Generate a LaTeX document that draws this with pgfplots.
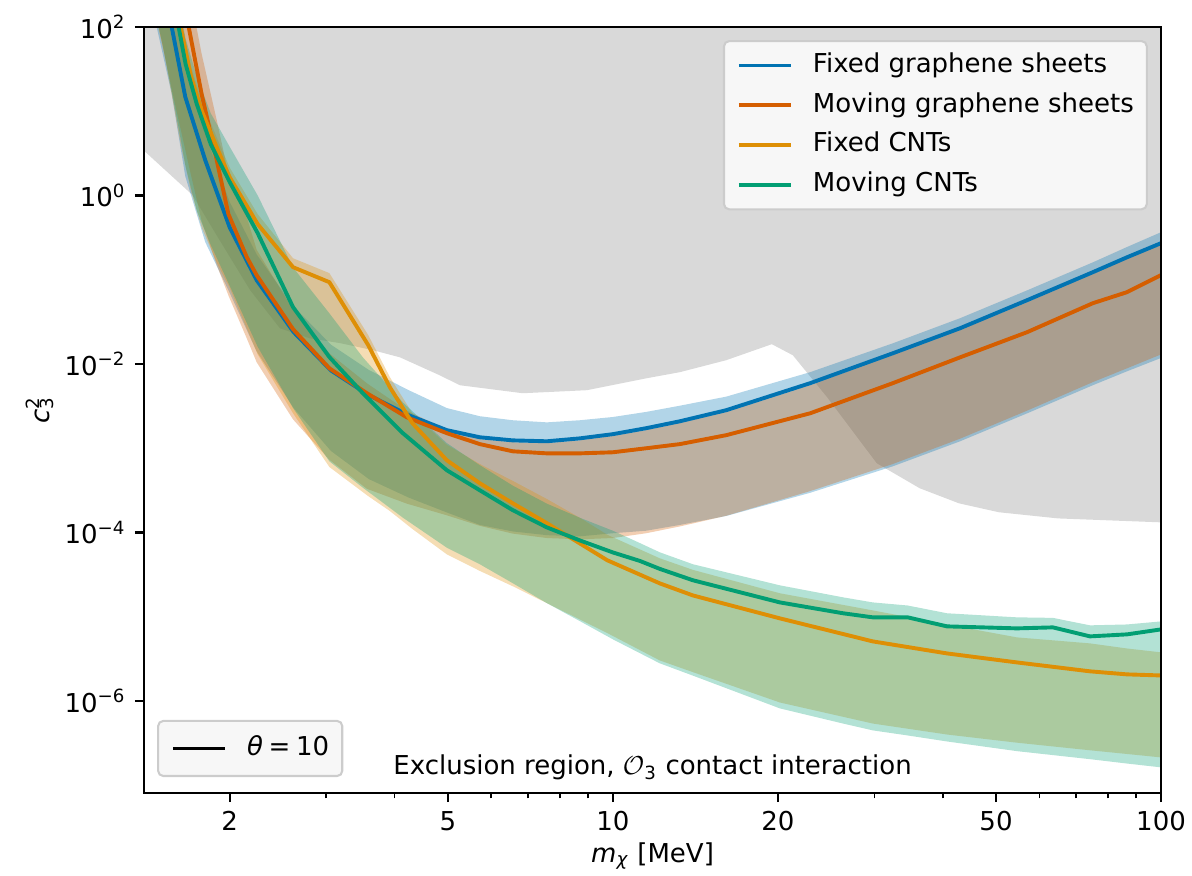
\documentclass[border=0pt]{standalone}
\usepackage{fontspec}
\setmainfont{DejaVu Sans}
\usepackage{pgfplots}
\pgfplotsset{compat=1.18}
\usepackage{pgfplotstable}
\usepgfplotslibrary{fillbetween}

\definecolor{cbblue}{HTML}{0173B2}
\definecolor{cbred}{HTML}{D55E00}
\definecolor{cborange}{HTML}{DE8F05}
\definecolor{cbgreen}{HTML}{029E73}

% excluded region: lower boundary (the region extends to the top of the plot)
\pgfplotstableread{
m y
1.396 3.40
1.712 1.01
1.918 0.295
2.18 0.0752
2.47 0.0266
2.80 0.0202
3.18 0.0177
3.65 0.0146
4.09 0.0120
4.83 7.36e-3
5.26 5.6e-3
6.85 4.5e-3
8.97 4.89e-3
11.53 6.78e-3
13.25 8.0e-3
16.1 0.0111
19.5 0.0172
21.3 0.0127
24.6 4.03e-3
30.3 6.64e-4
36.3 3.35e-4
42.8 2.22e-4
50.6 1.74e-4
64.9 1.47e-4
100 1.32e-4
}\excl

% m [MeV], lower band edge, central curve, upper band edge
\pgfplotstableread{
m lo mid hi
1.464 117 1000 2000
1.568 16 100 200
1.66 1.69 14.8 30
1.805 0.28 2.63 5.3
2.0 0.07 0.42 0.84
2.24 0.0141 0.099 0.2
2.617 3.0e-3 0.0239 0.048
3.06 9.3e-4 8.4e-3 0.017
3.59 4.3e-4 4.26e-3 8.5e-3
4.24 2.6e-4 2.47e-3 4.9e-3
4.98 1.73e-4 1.64e-3 3.0e-3
5.72 1.23e-4 1.35e-3 2.4e-3
6.57 1.03e-4 1.24e-3 2.15e-3
7.58 9.3e-5 1.21e-3 2.03e-3
8.70 9.0e-5 1.31e-3 2.15e-3
10 9.8e-5 1.47e-3 2.35e-3
11.5 1.05e-4 1.73e-3 2.7e-3
13.25 1.23e-4 2.09e-3 3.2e-3
16.1 1.57e-4 2.83e-3 4.1e-3
22.9 2.96e-4 5.92e-3 8.0e-3
32.4 6.1e-4 1.34e-2 1.76e-2
43 1.21e-3 2.66e-2 3.5e-2
57 2.6e-3 5.73e-2 7.5e-2
75.1 5.6e-3 0.123 0.161
86.7 8.2e-3 0.185 0.245
100 1.18e-2 0.272 0.367
}\fixedgraphene

\pgfplotstableread{
m lo mid hi
1.48 110 1e5 1e5
1.572 17 1000 3000
1.684 2.3 100 300
1.778 0.5 16 48
1.894 0.15 2.63 7.9
1.99 0.065 0.60 1.8
2.15 0.02 0.185 0.55
2.24 0.0105 0.1135 0.227
2.61 2.2e-3 0.0259 0.044
3.04 7.3e-4 8.9e-3 0.0134
3.56 3.3e-4 4.5e-3 5.9e-3
4.21 2.2e-4 2.33e-3 2.8e-3
4.98 1.6e-4 1.51e-3 1.66e-3
5.72 1.2e-4 1.12e-3 1.28e-3
6.57 9.7e-5 9.2e-4 1.18e-3
7.58 8.6e-5 8.7e-4 1.15e-3
8.70 8.3e-5 8.7e-4 1.24e-3
10 8.6e-5 8.96e-4 1.40e-3
11.5 9.8e-5 1.0e-3 1.64e-3
13.25 1.18e-4 1.12e-3 1.99e-3
16.1 1.58e-4 1.43e-3 2.69e-3
22.9 3.1e-4 2.6e-3 5.6e-3
32.4 6.5e-4 5.92e-3 1.27e-2
43 1.3e-3 1.2e-2 2.53e-2
57 2.8e-3 2.39e-2 5.4e-2
75.1 6.1e-3 5.27e-2 0.117
86.7 8.9e-3 7.13e-2 0.176
100 1.3e-2 0.1135 0.258
}\movinggraphene

\pgfplotstableread{
m lo mid hi
1.48 102 1e5 1e5
1.52 48 1000 1300
1.628 4.1 100 130
1.70 1.13 26 34
1.78 0.41 10 13
1.894 0.16 3.76 4.9
2.0 0.08 1.65 2.15
2.25 0.013 0.457 0.6
2.61 2.6e-3 0.141 0.18
3.04 6.0e-4 0.0936 0.12
3.58 2.7e-4 0.0167 0.022
3.92 1.8e-4 5.3e-3 7.0e-3
4.31 1.1e-4 1.98e-3 2.6e-3
4.98 5.5e-5 7.2e-4 1.1e-3
5.72 3.5e-5 3.84e-4 6.5e-4
6.57 2.3e-5 2.22e-4 4.1e-4
7.58 1.45e-5 1.29e-4 2.5e-4
8.70 9.3e-6 7.44e-5 1.5e-4
9.77 6.4e-6 4.68e-5 9.4e-5
12.18 3.03e-6 2.49e-5 4.94e-5
14.0 2.2e-6 1.79e-5 3.6e-5
20.17 9.6e-7 9.57e-6 1.9e-5
29.8 5.4e-7 5.10e-6 1.19e-5
40.7 4.0e-7 3.67e-6 8.1e-6
54.6 3.2e-7 2.87e-6 5.69e-6
74.2 2.6e-7 2.25e-6 4.83e-6
86.7 2.35e-7 2.07e-6 4.2e-6
100 2.14e-7 2.01e-6 3.78e-6
}\fixedcnt

\pgfplotstableread{
m lo mid hi
1.48 110 1e5 1e5
1.51 61 1000 2000
1.614 6.4 100 200
1.662 2.2 36.4 73
1.742 0.66 12.2 26
1.847 0.26 4.08 9.5
2.0 0.085 1.45 3.8
2.25 0.016 0.357 1.0
2.61 3.0e-3 0.0473 0.14
3.04 7.0e-4 0.0121 0.04
3.50 3.4e-4 4.5e-3 0.012
4.14 1.5e-4 1.51e-3 3.5e-3
4.98 6.6e-5 5.48e-4 1.15e-3
5.72 4.2e-5 3.17e-4 6.3e-4
6.57 2.5e-5 1.84e-4 3.6e-4
7.58 1.45e-5 1.15e-4 2.2e-4
8.70 8.9e-6 8.07e-5 1.5e-4
10 5.4e-6 5.8e-5 1.05e-4
11.2 3.7e-6 4.6e-5 7.5e-5
12.18 2.8e-6 3.7e-5 5.82e-5
14.0 2.0e-6 2.71e-5 4.2e-5
20.17 8.17e-7 1.48e-5 2.36e-5
26.3 5.4e-7 1.10e-5 1.7e-5
29.8 4.48e-7 9.84e-6 1.48e-5
34.5 3.9e-7 9.84e-6 1.36e-5
40.7 3.31e-7 7.69e-6 1.10e-5
54.6 2.54e-7 7.28e-6 9.84e-6
63.5 2.28e-7 7.48e-6 9.7e-6
74.2 2.04e-7 5.85e-6 7.91e-6
86.7 1.81e-7 6.18e-6 8.1e-6
100 1.63e-7 7.08e-6 8.81e-6
}\movingcnt

\pgfplotsset{
  lineleg/.style={legend image code/.code={\path (0pt,0pt); \draw[##1] (2pt,0pt) -- (22pt,0pt);}},
  mplframe/.style={
    at={(0pt,0pt)}, anchor=south west,
    width=391.1pt, height=294.6pt, scale only axis,
  },
  mpllegend/.style={
    legend cell align=left,
    legend style={fill=black!3, draw=black!20, rounded corners=2pt,
      inner sep=3pt, row sep=2.5pt, line width=0.8pt,
      nodes={inner xsep=2pt, inner ysep=1.5pt, text height=7.5pt, text depth=2.3pt},
      /tikz/every odd column/.append style={column sep=5.7pt}},
  },
}

\begin{document}
\begin{tikzpicture}
\begin{axis}[
  mplframe, mpllegend,
  xmode=log, ymode=log,
  xmin=1.396, xmax=100, ymin=8.07e-8, ymax=100,
  axis on top,
  axis line style={line width=0.8pt},
  tick pos=left, tick align=outside,
  major tick length=3.5pt, minor tick length=2pt,
  every major tick/.append style={line width=0.8pt, black},
  every minor tick/.append style={line width=0.6pt, black},
  xtick={2,5,10,20,50,100},
  xticklabels={2,5,10,20,50,100},
  minor xtick={3,4,6,7,8,9,30,40,60,70,80,90},
  ytick={1e-6,1e-4,1e-2,1,100},
  yticklabels={10\textsuperscript{−6},10\textsuperscript{−4},10\textsuperscript{−2},10\textsuperscript{0},10\textsuperscript{2}},
  yminorticks=false,
  xlabel={\textit{m}\textsubscript{\textit{χ}} [MeV]},
  ylabel={\textit{c}\rlap{\textsuperscript{2}}\textsubscript{3}},
  xlabel style={at={(axis description cs:0.5,0)}, anchor=base, yshift=-26.5pt},
  ylabel style={at={(axis description cs:-0.1023,0.5)}, anchor=center},
  legend style={at={(0.987,0.983)}, anchor=north east},
]
% excluded region
\addplot[name path=exlo, draw=none, forget plot] table[x=m, y=y] {\excl};
\addplot[name path=exhi, draw=none, forget plot] coordinates {(1.396,1e3) (100,1e3)};
\addplot[fill=black!50, fill opacity=0.3, draw=none, forget plot] fill between[of=exlo and exhi];

% uncertainty bands
\addplot[name path=a1, draw=none, forget plot] table[x=m, y=lo] {\fixedgraphene};
\addplot[name path=a2, draw=none, forget plot] table[x=m, y=hi] {\fixedgraphene};
\addplot[fill=cbblue, fill opacity=0.3, draw=none, forget plot] fill between[of=a1 and a2];

\addplot[name path=b1, draw=none, forget plot] table[x=m, y=lo] {\movinggraphene};
\addplot[name path=b2, draw=none, forget plot] table[x=m, y=hi] {\movinggraphene};
\addplot[fill=cbred, fill opacity=0.3, draw=none, forget plot] fill between[of=b1 and b2];

\addplot[name path=c1, draw=none, forget plot] table[x=m, y=lo] {\fixedcnt};
\addplot[name path=c2, draw=none, forget plot] table[x=m, y=hi] {\fixedcnt};
\addplot[fill=cborange, fill opacity=0.3, draw=none, forget plot] fill between[of=c1 and c2];

\addplot[name path=d1, draw=none, forget plot] table[x=m, y=lo] {\movingcnt};
\addplot[name path=d2, draw=none, forget plot] table[x=m, y=hi] {\movingcnt};
\addplot[fill=cbgreen, fill opacity=0.3, draw=none, forget plot] fill between[of=d1 and d2];

% central curves
\addplot[cbblue, line width=1.5pt, line join=round, lineleg] table[x=m, y=mid] {\fixedgraphene};
\addlegendentry{Fixed graphene sheets}
\addplot[cbred, line width=1.5pt, line join=round, lineleg] table[x=m, y=mid] {\movinggraphene};
\addlegendentry{Moving graphene sheets}
\addplot[cborange, line width=1.5pt, line join=round, lineleg] table[x=m, y=mid] {\fixedcnt};
\addlegendentry{Fixed CNTs}
\addplot[cbgreen, line width=1.5pt, line join=round, lineleg] table[x=m, y=mid] {\movingcnt};
\addlegendentry{Moving CNTs}

\node[anchor=base] at (rel axis cs:0.5,0.024) {Exclusion region, $\mathcal{O}$\textsubscript{3} contact interaction};
\end{axis}

% second legend: parameter value
\begin{axis}[
  mplframe, mpllegend, hide axis,
  xmin=0, xmax=1, ymin=0, ymax=1,
  legend style={at={(0.0128,0.0209)}, anchor=south west, inner ysep=4.2pt},
]
\addlegendimage{black, line width=1.5pt, lineleg}
\addlegendentry{\textit{θ}\hspace{0.22em}=\hspace{0.22em}10}
\end{axis}

\pgfresetboundingbox
\path[use as bounding box] (-55.4pt,-31.5pt) rectangle (403.0pt,305.0pt);
\end{tikzpicture}
\end{document}
